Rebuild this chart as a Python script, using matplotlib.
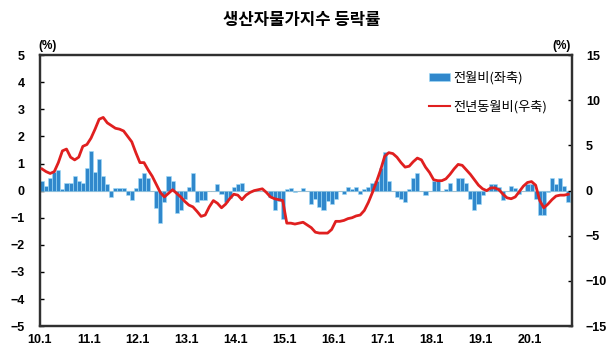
import matplotlib
matplotlib.use("Agg")
import matplotlib.pyplot as plt
import numpy as np
from matplotlib.patches import Patch
from matplotlib.lines import Line2D

plt.rcParams['font.family'] = ['Liberation Sans', 'Noto Sans CJK KR']

# Monthly data, 2010.1 ~ 2020.10
mom = [
    0.37, 0.16, 0.46, 0.67, 0.76, 0.06, 0.27, 0.27, 0.55, 0.37, 0.27, 0.85,      # 2010
    1.46, 0.67, 1.16, 0.55, 0.24, -0.24, 0.10, 0.10, 0.10, -0.15, -0.34, 0.10,    # 2011
    0.45, 0.66, 0.45, -0.03, -0.63, -1.20, -0.43, 0.55, 0.36, -0.82, -0.72, -0.30,  # 2012
    0.15, 0.66, -0.43, -0.34, -0.34, 0.00, 0.00, 0.24, -0.12, -0.43, -0.27, 0.15,  # 2013
    0.24, 0.27, 0.00, 0.00, 0.00, 0.00, 0.00, 0.00, -0.24, -0.73, -0.40, -1.04,    # 2014
    0.05, 0.08, -0.05, 0.00, 0.08, 0.00, -0.50, -0.30, -0.60, -0.70, -0.40, -0.50,  # 2015
    -0.30, 0.00, -0.12, 0.15, 0.06, 0.15, -0.12, 0.06, 0.15, 0.27, 0.37, 0.85,    # 2016
    1.44, 0.34, 0.00, -0.22, -0.30, -0.43, 0.06, 0.45, 0.66, 0.00, -0.15, 0.00,   # 2017
    0.35, 0.35, 0.00, 0.06, 0.28, 0.00, 0.46, 0.46, 0.28, -0.30, -0.73, -0.50,    # 2018
    -0.18, 0.00, 0.24, 0.24, 0.14, -0.34, 0.00, 0.16, 0.10, -0.12, 0.00, 0.24,    # 2019
    0.24, -0.30, -0.90, -0.90, -0.05, 0.46, 0.24, 0.46, 0.18, -0.43,              # 2020
]
yoy = [
    2.4, 2.1, 1.9, 2.1, 3.1, 4.4, 4.6, 3.7, 3.4, 3.7, 4.9, 5.1,
    5.8, 6.8, 7.9, 8.1, 7.5, 7.2, 6.9, 6.8, 6.6, 6.0, 5.4, 4.2,
    3.1, 3.1, 2.3, 1.6, 0.7, -0.2, -0.7, -0.3, 0.1, -0.3, -0.7, -1.2,
    -1.6, -1.8, -2.3, -2.85, -2.7, -1.8, -1.1, -1.4, -1.9, -1.5, -0.9, -0.4,
    -0.5, -1.0, -0.5, -0.2, 0.0, 0.1, 0.2, -0.2, -0.7, -0.9, -1.0, -1.1,
    -3.6, -3.6, -3.7, -3.6, -3.5, -3.8, -4.1, -4.6, -4.7, -4.7, -4.7, -4.3,
    -3.4, -3.4, -3.3, -3.1, -3.0, -2.8, -2.7, -2.2, -1.3, -0.2, 1.0, 2.3,
    3.8, 4.2, 4.1, 3.7, 3.1, 2.6, 2.7, 3.2, 3.6, 3.4, 2.6, 2.0,
    1.2, 1.1, 1.1, 1.3, 1.8, 2.4, 2.9, 2.8, 2.3, 1.8, 1.2, 0.6,
    0.2, 0.0, 0.3, 0.3, 0.1, -0.4, -0.8, -0.9, -0.7, -0.1, 0.5, 0.9,
    1.0, 0.6, -1.1, -1.9, -1.5, -1.0, -0.6, -0.5, -0.5, -0.4,
]
xlabels = ["10.1", "11.1", "12.1", "13.1", "14.1", "15.1", "16.1", "17.1", "18.1", "19.1", "20.1"]

x = np.arange(len(mom)) + 0.5

fig = plt.figure(figsize=(6.15, 3.6), dpi=100)
ax = fig.add_axes([0.065, 0.094, 0.865, 0.753])
ax2 = ax.twinx()

ax.axhline(0, color="#a0a0a0", linewidth=0.8, zorder=1)
ax.bar(x, mom, width=1.0, color="#3088cc", edgecolor="#a0dbf7", linewidth=0.4, zorder=2)
ax2.plot(x, yoy, color="#e01f1f", linewidth=2, zorder=3)

ax.set_xlim(0, 130.4)
ax.set_ylim(-5, 5)
ax2.set_ylim(-15, 15)
ax.set_yticks(range(-5, 6))
ax2.set_yticks(range(-15, 16, 5))
ax.set_xticks(np.arange(len(xlabels)) * 12)
ax.set_xticklabels(xlabels)

for a in (ax, ax2):
    for s in a.spines.values():
        s.set_color("#303030")
        s.set_linewidth(1.6)
    a.tick_params(axis="y", direction="in", length=3, width=1, labelsize=9)
ax.tick_params(axis="x", length=0, labelsize=9, pad=6)
ax.tick_params(axis="y", pad=11)
ax2.tick_params(axis="y", pad=10)
for lab in ax.get_xticklabels() + ax.get_yticklabels() + ax2.get_yticklabels():
    lab.set_fontweight("bold")

fig.text(0.062, 0.865, "(%)", fontsize=8.5, fontweight="bold")
fig.text(0.898, 0.865, "(%)", fontsize=8.5, fontweight="bold")
fig.text(0.49, 0.945, "생산자물가지수 등락률", fontsize=12, fontweight="bold",
         ha="center", va="center", family="Noto Sans CJK KR")

handles = [Patch(facecolor="#3088cc", edgecolor="#a0dbf7", linewidth=0.4),
           Line2D([0], [0], color="#e01f1f", linewidth=1.5)]
ax.legend(handles, ["전월비(좌축)", "전년동월비(우축)"], loc="upper right",
          bbox_to_anchor=(0.975, 0.985), frameon=False, labelspacing=1.2,
          handlelength=1.6, handleheight=0.6, handletextpad=0.2,
          prop={"family": "Noto Sans CJK KR", "size": 9.5})

fig.savefig("out.png", dpi=100)
